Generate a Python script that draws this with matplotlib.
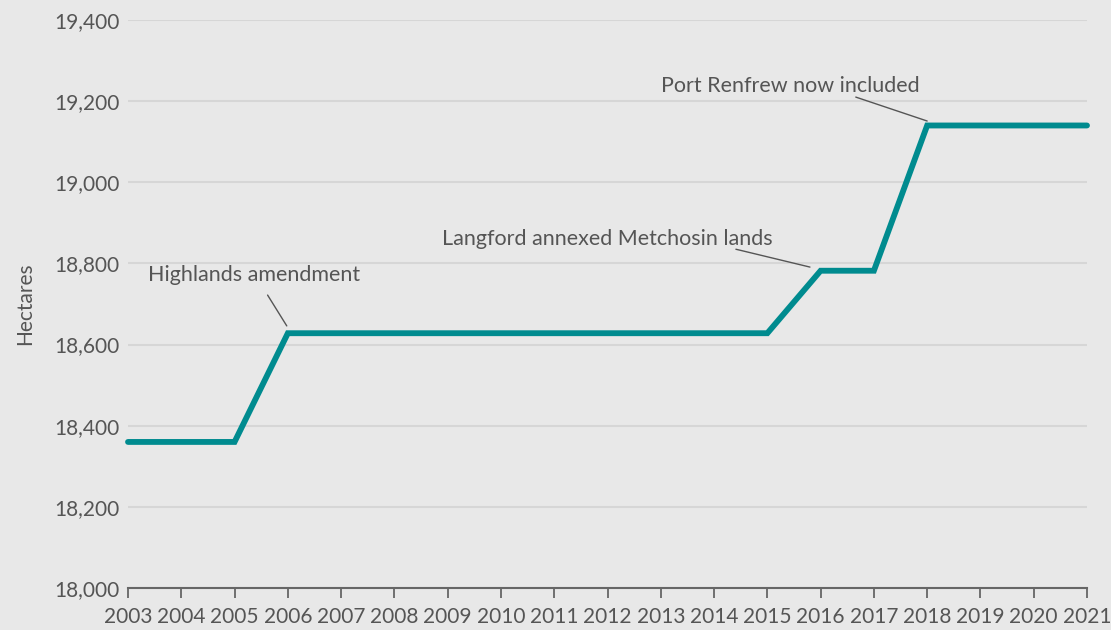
import matplotlib
matplotlib.use("Agg")
import matplotlib.pyplot as plt

years = list(range(2003, 2022))
hectares = [18360, 18360, 18360, 18628, 18628, 18628, 18628, 18628, 18628,
            18628, 18628, 18628, 18628, 18782, 18782, 19140, 19140, 19140, 19140]
y_ticks = [18000, 18200, 18400, 18600, 18800, 19000, 19200, 19400]
annotations = [
    ("Highlands amendment", (2005.98, 18646), (2005.62, 18722), (2005.36, 18771)),
    ("Langford annexed Metchosin lands", (2015.80, 18791), (2014.41, 18835), (2011.99, 18860)),
    ("Port Renfrew now included", (2018.0, 19151), (2016.66, 19210), (2015.44, 19237)),
]

bg = "#e8e8e8"
txt = "#555555"
plt.rcParams["font.family"] = ["Lato", "DejaVu Sans"]

fig = plt.figure(figsize=(11.11, 6.30), dpi=100, facecolor=bg)
ax = fig.add_axes([128/1111, 1-588/630, (1087-128)/1111, (588-20)/630], facecolor=bg)

ax.plot(years, hectares, color="#008b8f", lw=4.2, solid_capstyle="round",
        solid_joinstyle="miter", zorder=3, clip_on=False)

ax.set_xlim(2003, 2021)
ax.set_ylim(18000, 19400)
ax.set_xticks(years)
ax.set_xticklabels([str(y) for y in years])
ax.set_yticks(y_ticks)
ax.set_yticklabels([f"{v:,}" for v in y_ticks])

ax.grid(axis="y", color="#d6d6d6", lw=1.5)
ax.set_axisbelow(True)
for s in ["top", "right", "left"]:
    ax.spines[s].set_visible(False)
ax.spines["bottom"].set_color("#666666")
ax.spines["bottom"].set_linewidth(1.5)
ax.tick_params(axis="x", length=7, width=1.3, color="#666666", labelsize=15,
               labelcolor=txt, pad=7)
ax.tick_params(axis="y", length=0, labelsize=15, labelcolor=txt, pad=6)
ax.set_ylabel("Hectares", fontsize=15, color=txt, labelpad=14)

for label, pt, lstart, tpos in annotations:
    ax.annotate("", xy=pt, xytext=lstart,
                arrowprops=dict(arrowstyle="-", color="#555555", lw=1.0,
                                shrinkA=0, shrinkB=0))
    ax.text(tpos[0], tpos[1], label, ha="center", va="center", fontsize=15.5,
            color=txt)

fig.savefig("out.png", dpi=100, facecolor=bg)
